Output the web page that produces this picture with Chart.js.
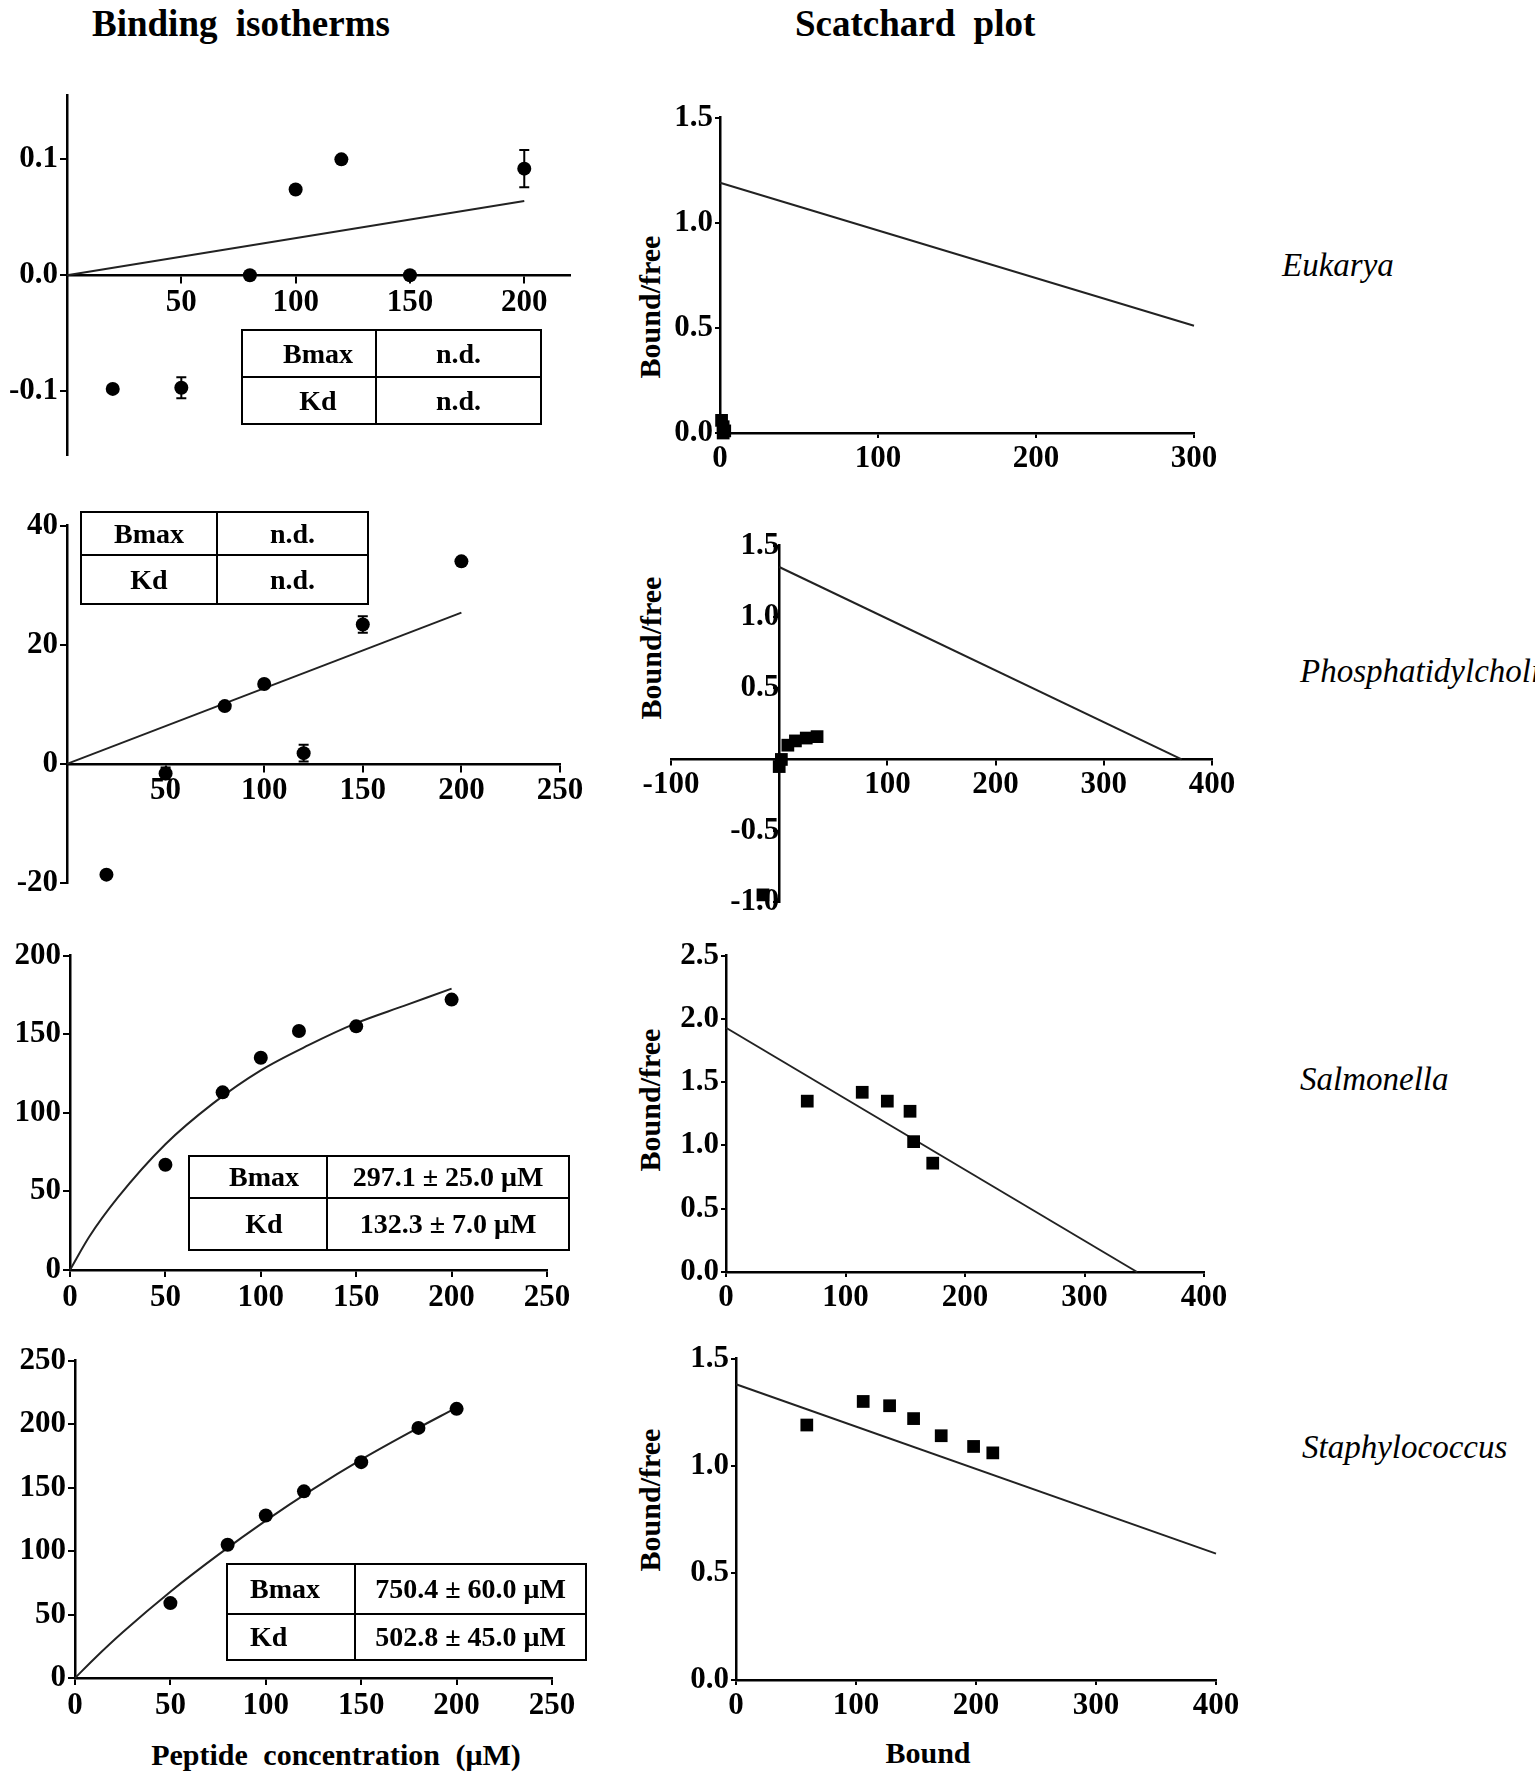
<!DOCTYPE html>
<html>
<head>
<meta charset="utf-8">
<title>Binding isotherms and Scatchard plots</title>
<script src="https://cdn.jsdelivr.net/npm/chart.js@4"></script>
<style>
  body { margin: 0; width: 1535px; height: 1778px; overflow: hidden; background: #fff; position: relative;
         font-family: 'Liberation Serif', 'Times New Roman', serif; color: #000; }
  .abs { position: absolute; white-space: nowrap; line-height: 1; }
  .head { font-size: 37px; font-weight: bold; word-spacing: 9px; }
  .org { font-size: 33px; font-style: italic; }
  .axt { font-size: 30px; font-weight: bold; word-spacing: 8px; }
  .rot { transform: translate(-50%, -50%) rotate(-90deg); }
  .cx { transform: translateX(-50%); }
  table.kv { position: absolute; border-collapse: collapse; font-size: 28px; font-weight: bold; table-layout: fixed; }
  table.kv td { border: 2px solid #000; padding: 0; text-align: center; line-height: 1; box-sizing: border-box; white-space: nowrap; }
  .panel { position: absolute; }
</style>
</head>
<body>

<div class="abs head" style="left:92px; top:5px;">Binding isotherms</div>
<div class="abs head" style="left:795px; top:5px;">Scatchard plot</div>

<div class="abs org" style="left:1282px; top:249px;">Eukarya</div>
<div class="abs org" style="left:1300px; top:655px;">Phosphatidylcholine</div>
<div class="abs org" style="left:1300px; top:1063px;">Salmonella</div>
<div class="abs org" style="left:1302px; top:1431px;">Staphylococcus</div>

<div class="abs axt rot" style="left:650px; top:307px;">Bound/free</div>
<div class="abs axt rot" style="left:651px; top:648px;">Bound/free</div>
<div class="abs axt rot" style="left:650px; top:1100px;">Bound/free</div>
<div class="abs axt rot" style="left:650px; top:1500px;">Bound/free</div>

<div class="abs axt cx" style="left:336px; top:1740px;">Peptide concentration (μM)</div>
<div class="abs axt cx" style="left:928px; top:1738px;">Bound</div>

<table class="kv" style="left:241px; top:329px; width:301px; height:96px; z-index:2;">
  <colgroup><col style="width:134px"><col></colgroup>
  <tr style="height:47px"><td style="padding-left:18px">Bmax</td><td>n.d.</td></tr>
  <tr><td style="padding-left:18px">Kd</td><td>n.d.</td></tr>
</table>
<table class="kv" style="left:80px; top:511px; width:289px; height:94px; z-index:2;">
  <colgroup><col style="width:136px"><col></colgroup>
  <tr style="height:43px"><td>Bmax</td><td>n.d.</td></tr>
  <tr><td>Kd</td><td>n.d.</td></tr>
</table>
<table class="kv" style="left:188px; top:1155px; width:382px; height:96px; z-index:2;">
  <colgroup><col style="width:138px"><col></colgroup>
  <tr style="height:42px"><td style="padding-left:12px">Bmax</td><td>297.1 ± 25.0 μM</td></tr>
  <tr><td style="padding-left:12px">Kd</td><td>132.3 ± 7.0 μM</td></tr>
</table>
<table class="kv" style="left:226px; top:1563px; width:361px; height:98px; z-index:2;">
  <colgroup><col style="width:128px"><col></colgroup>
  <tr style="height:50px"><td style="text-align:left; padding-left:22px">Bmax</td><td>750.4 ± 60.0 μM</td></tr>
  <tr><td style="text-align:left; padding-left:22px">Kd</td><td>502.8 ± 45.0 μM</td></tr>
</table>

<script>
// ---- Eukarya ----
const eukIsoX = [20, 50, 80, 100, 120, 150, 200];
const eukIsoY = [-0.098, -0.097, 0, 0.074, 0.100, 0, 0.092];
const eukIsoErr = [0, 0.009, 0, 0, 0, 0, 0.016];
const eukIsoFitX = [0, 200];
const eukIsoFitY = [0, 0.064];
const eukIsoXTicks = [0, 50, 100, 150, 200];
const eukIsoXLabels = ['', '50', '100', '150', '200'];
const eukIsoYTicks = [-0.1, 0, 0.1];
const eukIsoYLabels = ['-0.1', '0.0', '0.1'];

const eukScX = [1, 2, 3, 2];
const eukScY = [0.06, 0.03, 0.01, 0.0];
const eukScFitX = [0, 300];
const eukScFitY = [1.19, 0.51];
const eukScXTicks = [0, 100, 200, 300];
const eukScXLabels = ['0', '100', '200', '300'];
const eukScYTicks = [0, 0.5, 1, 1.5];
const eukScYLabels = ['0.0', '0.5', '1.0', '1.5'];

// ---- Phosphatidylcholine ----
const pcIsoX = [20, 50, 80, 100, 120, 150, 200];
const pcIsoY = [-18.6, -1.6, 9.7, 13.4, 1.8, 23.4, 34.0];
const pcIsoErr = [0, 1.0, 0, 0, 1.4, 1.4, 0];
const pcIsoFitX = [0, 200];
const pcIsoFitY = [0, 25.4];
const pcIsoXTicks = [0, 50, 100, 150, 200, 250];
const pcIsoXLabels = ['', '50', '100', '150', '200', '250'];
const pcIsoYTicks = [-20, 0, 20, 40];
const pcIsoYLabels = ['-20', '0', '20', '40'];

const pcScX = [-15, 0, 2, 8, 15, 25, 35];
const pcScY = [-0.95, -0.05, 0.0, 0.10, 0.13, 0.15, 0.16];
const pcScFitX = [0, 372];
const pcScFitY = [1.35, 0];
const pcScXTicks = [-100, 0, 100, 200, 300, 400];
const pcScXLabels = ['-100', '', '100', '200', '300', '400'];
const pcScYTicks = [-1, -0.5, 0, 0.5, 1, 1.5];
const pcScYLabels = ['-1.0', '-0.5', '', '0.5', '1.0', '1.5'];

// ---- Salmonella ----
const salIsoX = [50, 80, 100, 120, 150, 200];
const salIsoY = [67, 113, 135, 152, 155, 172];
const salIsoFitX = [0, 10, 25, 50, 75, 100, 125, 150, 175, 200];
const salIsoFitY = [0, 21, 46, 80, 106, 127, 143, 157, 168, 179];
const salIsoXTicks = [0, 50, 100, 150, 200, 250];
const salIsoXLabels = ['0', '50', '100', '150', '200', '250'];
const salIsoYTicks = [0, 50, 100, 150, 200];
const salIsoYLabels = ['0', '50', '100', '150', '200'];

const salScX = [68, 114, 135, 154, 157, 173];
const salScY = [1.35, 1.42, 1.35, 1.27, 1.03, 0.86];
const salScFitX = [0, 344];
const salScFitY = [1.93, 0];
const salScXTicks = [0, 100, 200, 300, 400];
const salScXLabels = ['0', '100', '200', '300', '400'];
const salScYTicks = [0, 0.5, 1, 1.5, 2, 2.5];
const salScYLabels = ['0.0', '0.5', '1.0', '1.5', '2.0', '2.5'];

// ---- Staphylococcus ----
const staIsoX = [50, 80, 100, 120, 150, 180, 200];
const staIsoY = [59, 105, 128, 147, 170, 197, 212];
const staIsoFitX = [0, 10, 25, 50, 75, 100, 125, 150, 175, 200];
const staIsoFitY = [0, 15, 36, 68, 97, 124, 149, 172, 193, 213];
const staIsoXTicks = [0, 50, 100, 150, 200, 250];
const staIsoXLabels = ['0', '50', '100', '150', '200', '250'];
const staIsoYTicks = [0, 50, 100, 150, 200, 250];
const staIsoYLabels = ['0', '50', '100', '150', '200', '250'];

const staScX = [59, 106, 128, 148, 171, 198, 214];
const staScY = [1.19, 1.30, 1.28, 1.22, 1.14, 1.09, 1.06];
const staScFitX = [0, 400];
const staScFitY = [1.38, 0.59];
const staScXTicks = [0, 100, 200, 300, 400];
const staScXLabels = ['0', '100', '200', '300', '400'];
const staScYTicks = [0, 0.5, 1, 1.5];
const staScYLabels = ['0.0', '0.5', '1.0', '1.5'];

const TICK_FONT = { family: "'Liberation Serif', 'Times New Roman', serif", size: 31, weight: 'bold' };

// error bars with caps, placed through the chart's scales
const errorBars = {
  id: 'errorBars',
  afterDatasetsDraw(chart) {
    const { ctx } = chart;
    const xs = chart.scales.x, ys = chart.scales.y;
    chart.data.datasets.forEach(ds => {
      if (!ds.errs) return;
      ds.data.forEach((p, i) => {
        const e = ds.errs[i];
        if (!e) return;
        const px = xs.getPixelForValue(p.x);
        const y1 = ys.getPixelForValue(p.y - e), y2 = ys.getPixelForValue(p.y + e);
        ctx.save();
        ctx.strokeStyle = '#000';
        ctx.lineWidth = 2;
        ctx.beginPath();
        ctx.moveTo(px, y1); ctx.lineTo(px, y2);
        ctx.moveTo(px - 5, y1); ctx.lineTo(px + 5, y1);
        ctx.moveTo(px - 5, y2); ctx.lineTo(px + 5, y2);
        ctx.stroke();
        ctx.restore();
      });
    });
  }
};

function pts(xs, ys) { return xs.map((x, i) => ({ x, y: ys[i] })); }

function dots(xs, ys, style, errs) {
  return {
    data: pts(xs, ys), pointStyle: style, pointRadius: style === 'rect' ? 9 : 7,
    backgroundColor: '#000', borderColor: '#000', borderWidth: 0, clip: false, errs
  };
}

function fit(xs, ys, smooth) {
  return {
    data: pts(xs, ys), showLine: true, pointRadius: 0, borderColor: '#222', borderWidth: 2,
    tension: smooth ? 0.4 : 0, cubicInterpolationMode: smooth ? 'monotone' : 'default', clip: false
  };
}

function axis(range, ticks, labels, pos, tickLen, fixSize, sizeKey) {
  return {
    type: 'linear', min: range[0], max: range[1], position: pos,
    afterBuildTicks: s => { s.ticks = ticks.map(v => ({ value: v })); },
    afterFit: fixSize ? s => { s[sizeKey] = fixSize; } : undefined,
    ticks: { callback: (v, i) => labels[i], font: TICK_FONT, color: '#000', padding: 2, maxRotation: 0, autoSkip: false },
    grid: { drawOnChartArea: false, drawTicks: true, tickLength: tickLen, color: '#000', lineWidth: 2 },
    border: { display: true, color: '#000', width: 2.5 }
  };
}

// box = chart area in page pixels [left, top, right, bottom]
function makePanel(p) {
  const padL = 110, padR = 40, padT = 20, padB = 60;
  const div = document.createElement('div');
  div.className = 'panel';
  div.style.left = (p.box[0] - padL) + 'px';
  div.style.top = (p.box[1] - padT) + 'px';
  div.style.width = (p.box[2] - p.box[0] + padL + padR) + 'px';
  div.style.height = (p.box[3] - p.box[1] + padT + padB) + 'px';
  const cv = document.createElement('canvas');
  div.appendChild(cv);
  document.body.appendChild(div);
  new Chart(cv, {
    type: 'scatter',
    data: { datasets: p.datasets },
    options: {
      responsive: true, maintainAspectRatio: false, animation: false,
      layout: { autoPadding: false, padding: { left: p.crossY ? padL : 0, right: padR, top: padT, bottom: p.crossX ? padB : 0 } },
      plugins: { legend: { display: false }, tooltip: { enabled: false } },
      scales: {
        x: axis(p.xRange, p.xTicks, p.xLabels, p.crossX ? { y: 0 } : 'bottom', p.tl, p.crossX ? 0 : padB, 'height'),
        y: axis(p.yRange, p.yTicks, p.yLabels, p.crossY ? { x: 0 } : 'left', p.tl, p.crossY ? 0 : padL, 'width')
      }
    },
    plugins: [errorBars]
  });
}

makePanel({ box: [67, 95, 570, 455], xRange: [0, 220], yRange: [-0.155, 0.155], crossX: true, tl: 7,
  xTicks: eukIsoXTicks, xLabels: eukIsoXLabels, yTicks: eukIsoYTicks, yLabels: eukIsoYLabels,
  datasets: [dots(eukIsoX, eukIsoY, 'circle', eukIsoErr), fit(eukIsoFitX, eukIsoFitY, false)] });

makePanel({ box: [720, 117, 1194, 433], xRange: [0, 300], yRange: [0, 1.5], tl: 5,
  xTicks: eukScXTicks, xLabels: eukScXLabels, yTicks: eukScYTicks, yLabels: eukScYLabels,
  datasets: [dots(eukScX, eukScY, 'rect'), fit(eukScFitX, eukScFitY, false)] });

makePanel({ box: [67, 525, 560, 883], xRange: [0, 250], yRange: [-20, 40], crossX: true, tl: 7,
  xTicks: pcIsoXTicks, xLabels: pcIsoXLabels, yTicks: pcIsoYTicks, yLabels: pcIsoYLabels,
  datasets: [dots(pcIsoX, pcIsoY, 'circle', pcIsoErr), fit(pcIsoFitX, pcIsoFitY, false)] });

makePanel({ box: [671, 545, 1212, 902], xRange: [-100, 400], yRange: [-1, 1.5], crossX: true, crossY: true, tl: 5,
  xTicks: pcScXTicks, xLabels: pcScXLabels, yTicks: pcScYTicks, yLabels: pcScYLabels,
  datasets: [dots(pcScX, pcScY, 'rect'), fit(pcScFitX, pcScFitY, false)] });

makePanel({ box: [70, 955, 547, 1270], xRange: [0, 250], yRange: [0, 200], tl: 7,
  xTicks: salIsoXTicks, xLabels: salIsoXLabels, yTicks: salIsoYTicks, yLabels: salIsoYLabels,
  datasets: [dots(salIsoX, salIsoY, 'circle'), fit(salIsoFitX, salIsoFitY, true)] });

makePanel({ box: [726, 955, 1204, 1272], xRange: [0, 400], yRange: [0, 2.5], tl: 5,
  xTicks: salScXTicks, xLabels: salScXLabels, yTicks: salScYTicks, yLabels: salScYLabels,
  datasets: [dots(salScX, salScY, 'rect'), fit(salScFitX, salScFitY, false)] });

makePanel({ box: [75, 1360, 552, 1678], xRange: [0, 250], yRange: [0, 250], tl: 7,
  xTicks: staIsoXTicks, xLabels: staIsoXLabels, yTicks: staIsoYTicks, yLabels: staIsoYLabels,
  datasets: [dots(staIsoX, staIsoY, 'circle'), fit(staIsoFitX, staIsoFitY, true)] });

makePanel({ box: [736, 1358, 1216, 1680], xRange: [0, 400], yRange: [0, 1.5], tl: 5,
  xTicks: staScXTicks, xLabels: staScXLabels, yTicks: staScYTicks, yLabels: staScYLabels,
  datasets: [dots(staScX, staScY, 'rect'), fit(staScFitX, staScFitY, false)] });
</script>
</body>
</html>
